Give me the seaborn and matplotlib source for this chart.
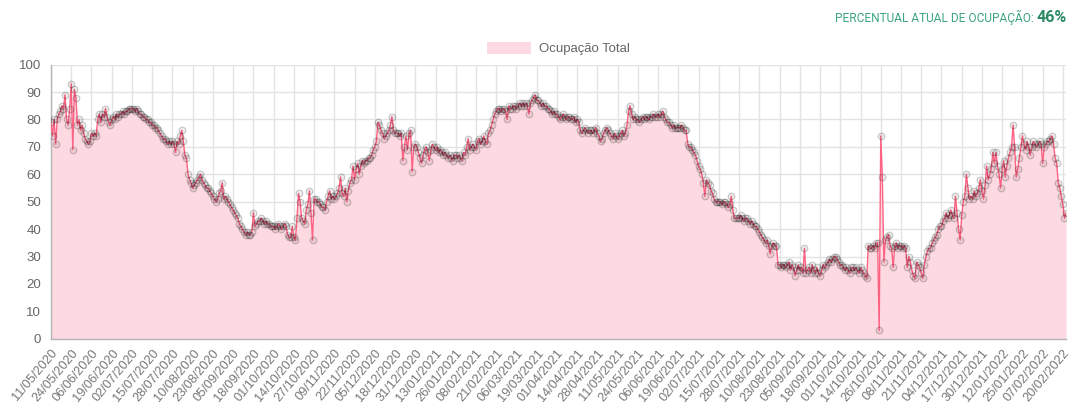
"""
Ocupação total (%) - série diária de 11/05/2020 a 22/02/2022.
"""

import numpy as np
import pandas as pd
import matplotlib
matplotlib.use("Agg")
import matplotlib.pyplot as plt
from matplotlib.patches import Patch
import seaborn as sns

# --- dados (valores diários, 13 pontos por intervalo de rótulo) ---
occ_2020_a = [
    79, 74, 80, 71, 80, 82, 83, 85, 84, 89, 80, 78, 84,
    93, 69, 91, 88, 78, 80, 76, 78, 75, 73, 72, 71, 72,
    75, 74, 75, 74, 80, 82, 79, 82, 81, 84, 81, 79, 78,
    80, 81, 80, 82, 81, 82, 82, 83, 82, 83, 83, 84, 84,
    84, 84, 83, 84, 83, 82, 82, 81, 81, 80, 80, 79, 79,
    78, 78, 77, 77, 76, 75, 74, 73, 73, 72, 71, 72, 71,
    72, 71, 68, 72, 71, 74, 76, 72, 67, 66, 60, 58, 57,
    55, 56, 57, 58, 59, 60, 58, 57, 56, 55, 55, 54, 53,
    52, 51, 50, 51, 53, 54, 57, 51, 52, 51, 50, 49, 48,
    47, 46, 45, 44, 42, 41, 40, 39, 38, 39, 38, 38, 39,
]
occ_2020_b = [
    46, 41, 42, 43, 43, 44, 43, 42, 43, 42, 42, 41, 41,
    41, 40, 41, 42, 41, 40, 41, 42, 41, 38, 37, 37, 41,
    37, 36, 44, 53, 50, 44, 43, 42, 47, 49, 54, 46, 36,
    51, 51, 50, 50, 49, 48, 48, 47, 50, 52, 54, 51, 52,
    51, 52, 53, 55, 59, 53, 52, 55, 50, 54, 57, 58, 63,
    58, 62, 64, 60, 63, 65, 64, 65, 65, 66, 66, 67, 69,
    70, 72, 79, 78, 76, 75, 73, 74, 75, 76, 78, 81, 76,
    75, 75, 75, 74, 75, 65, 70, 74, 69, 75, 76, 61, 70,
    71, 70, 68, 66, 64, 67, 69, 70, 68, 65, 69, 71, 70,
    69, 70, 68, 69, 68, 67, 68, 67, 66, 67, 66, 65, 67,
]
occ_2021_a = [
    67, 66, 67, 66, 65, 68, 67, 70, 73, 69, 70, 71, 70,
    69, 72, 73, 71, 72, 74, 72, 71, 75, 76, 78, 80, 82,
    83, 84, 84, 83, 84, 84, 83, 80, 85, 84, 84, 85, 85,
    84, 85, 86, 85, 86, 85, 86, 85, 82, 86, 87, 88, 89,
    87, 87, 86, 85, 86, 85, 85, 84, 84, 83, 82, 83, 82,
    82, 81, 80, 81, 82, 81, 80, 81, 81, 80, 80, 81, 79,
    80, 79, 76, 75, 76, 77, 76, 75, 76, 76, 75, 76, 77,
    75, 74, 72, 73, 75, 76, 77, 76, 75, 74, 73, 75, 74,
    73, 74, 75, 76, 74, 75, 78, 83, 85, 82, 80, 81, 80,
    80, 79, 80, 81, 80, 81, 81, 80, 81, 81, 82, 81, 81,
]
occ_2021_b = [
    82, 81, 82, 83, 81, 80, 79, 79, 78, 77, 78, 77, 77,
    77, 77, 78, 77, 76, 76, 71, 70, 70, 69, 68, 67, 65,
    63, 62, 60, 57, 52, 58, 57, 56, 54, 53, 51, 50, 50,
    50, 50, 49, 50, 50, 49, 48, 49, 52, 47, 44, 44, 44,
    44, 45, 44, 43, 44, 44, 43, 42, 43, 42, 41, 41, 40,
    39, 38, 37, 36, 35, 36, 34, 31, 34, 35, 34, 34, 27,
    27, 26, 27, 27, 26, 27, 28, 25, 27, 26, 23, 25, 27,
    25, 26, 24, 33, 24, 25, 26, 24, 27, 25, 24, 26, 24,
    23, 25, 27, 26, 27, 28, 29, 28, 29, 30, 30, 29, 28,
    27, 27, 26, 25, 26, 25, 24, 26, 26, 25, 26, 25, 24,
]
occ_2022 = [
    26, 25, 24, 23, 22, 34, 33, 33, 34, 33, 35, 35, 3,
    74, 59, 28, 36, 37, 38, 34, 33, 26, 34, 35, 33, 34,
    34, 33, 34, 33, 26, 30, 28, 25, 23, 22, 28, 27, 26,
    24, 22, 27, 30, 32, 33, 33, 35, 36, 37, 38, 40, 41,
    41, 43, 44, 46, 44, 45, 47, 45, 44, 52, 46, 40, 36,
    45, 50, 52, 60, 55, 51, 52, 51, 54, 52, 53, 55, 58,
    54, 51, 56, 63, 58, 60, 62, 68, 64, 68, 63, 60, 55,
    62, 65, 59, 63, 66, 68, 70, 78, 70, 59, 62, 66, 70,
    74, 71, 69, 72, 70, 67, 70, 72, 71, 70, 71, 72, 71,
    64, 70, 71, 72, 72, 73, 74, 71, 66, 64, 57, 55, 52,
    49, 44, 46,
]

tick_labels = [
    "11/05/2020", "24/05/2020", "06/06/2020", "19/06/2020", "02/07/2020",
    "15/07/2020", "28/07/2020", "10/08/2020", "23/08/2020", "05/09/2020",
    "18/09/2020", "01/10/2020", "14/10/2020", "27/10/2020", "09/11/2020",
    "22/11/2020", "05/12/2020", "18/12/2020", "31/12/2020", "13/01/2021",
    "26/01/2021", "08/02/2021", "21/02/2021", "06/03/2021", "19/03/2021",
    "01/04/2021", "14/04/2021", "28/04/2021", "11/05/2021", "24/05/2021",
    "06/06/2021", "19/06/2021", "02/07/2021", "15/07/2021", "28/07/2021",
    "10/08/2021", "23/08/2021", "05/09/2021", "18/09/2021", "01/10/2021",
    "14/10/2021", "26/10/2021", "08/11/2021", "21/11/2021", "04/12/2021",
    "17/12/2021", "30/12/2021", "12/01/2022", "25/01/2022", "07/02/2022",
    "20/02/2022",
]
tick_step = 13
current_pct = 46

values = occ_2020_a + occ_2020_b + occ_2021_a + occ_2021_b + occ_2022
df = pd.DataFrame({"idx": np.arange(len(values)), "ocupacao": values})

# --- estilo ---
sns.set_style("white")
plt.rcParams["font.family"] = ["Liberation Sans", "DejaVu Sans"]

line_color = "#ff6384"
fill_color = "#fdd9e1"
grid_color = "#e3e3e3"
text_color = "#666666"

fig = plt.figure(figsize=(10.76, 4.08), dpi=100)
ax = fig.add_axes([51 / 1076, 1 - 338.7 / 408, (1066 - 51) / 1076, (338.7 - 64.7) / 408])

ax.fill_between(df["idx"], df["ocupacao"], 0, color=fill_color, linewidth=0, zorder=1)
sns.lineplot(data=df, x="idx", y="ocupacao", ax=ax, color=line_color, linewidth=1.0,
             marker="o", markersize=4.8, markerfacecolor=(0, 0, 0, 0.07),
             markeredgecolor=(0, 0, 0, 0.2), markeredgewidth=0.8, zorder=3)

ax.set_xlim(0, len(values) - 1)
ax.set_ylim(0, 100)
ax.set_yticks(range(0, 101, 10))
ax.set_xticks(np.arange(len(tick_labels)) * tick_step)
ax.set_xticklabels(tick_labels, rotation=50, ha="right", rotation_mode="anchor")
ax.set_xlabel("")
ax.set_ylabel("")

ax.grid(True, color=grid_color, linewidth=1, zorder=0)
ax.set_axisbelow(True)
ax.tick_params(axis="y", length=5, color=grid_color, labelsize=9.5,
               labelcolor=text_color, pad=2)
ax.tick_params(axis="x", length=5, color=grid_color, labelsize=9.2,
               labelcolor="#777777", pad=1)
for side in ["top", "right"]:
    ax.spines[side].set_visible(False)
for side in ["left", "bottom"]:
    ax.spines[side].set_color("#b5b5b5")
    ax.spines[side].set_linewidth(1)

# legenda
handle = Patch(facecolor=fill_color, edgecolor="none", label="Ocupação Total")
ax.legend(handles=[handle], loc="lower center", bbox_to_anchor=(0.5, 1.0),
          frameon=False, fontsize=9.5, labelcolor=text_color, handlelength=3.3,
          handleheight=1.0, handletextpad=0.6, borderaxespad=0.3)

# cabeçalho
fig.text(0.9635, 0.957, "PERCENTUAL ATUAL DE OCUPAÇÃO: ", ha="right", va="center",
         fontsize=8.6, color="#3da57e", family=["Roboto", "DejaVu Sans"])
fig.text(0.9635, 0.957, f"{current_pct}%", ha="left", va="center", fontsize=11.5,
         fontweight="bold", color="#2c8a62", family=["Roboto", "DejaVu Sans"])

fig.savefig("out.png", dpi=100)
